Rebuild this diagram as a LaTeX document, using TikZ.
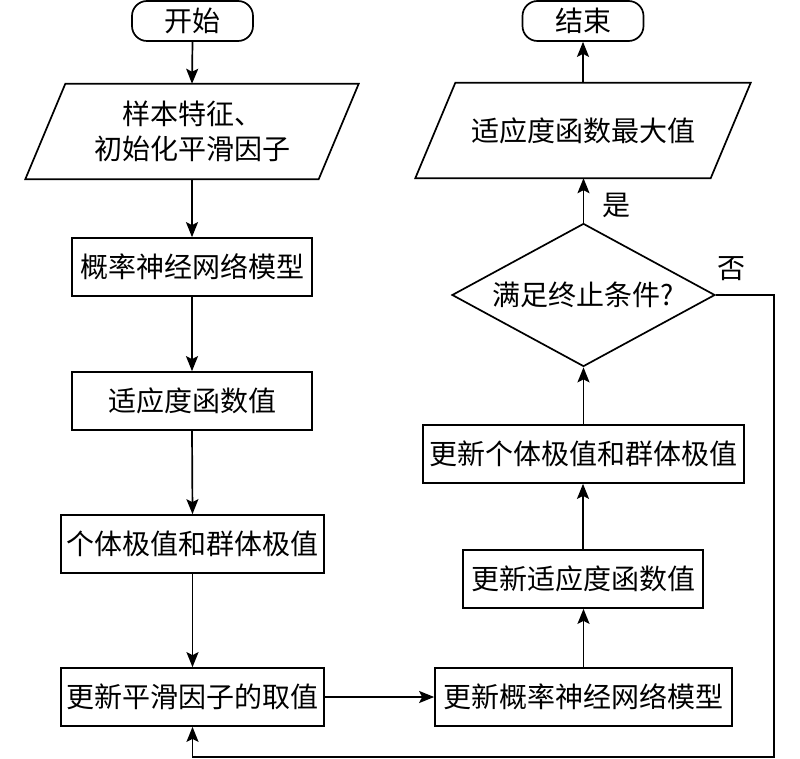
\documentclass[tikz,border=0pt]{standalone}
\usepackage{fontspec}
\setmainfont{Noto Sans CJK SC}
\usetikzlibrary{arrows.meta,shapes.geometric,calc}
\begin{document}
\begin{tikzpicture}[x=1pt,y=-1pt,
  every node/.style={font=\fontsize{28}{35}\selectfont, inner sep=0pt},
  box/.style={draw, line width=1.7pt, rectangle, minimum height=58pt},
  term/.style={draw, line width=1.7pt, rounded corners=15pt, minimum width=121pt, minimum height=40pt},
  io/.style={minimum width=293pt, minimum height=95pt, align=center},
  iobord/.style={line width=1.7pt, line join=miter},
  dec/.style={draw, line width=1.7pt, diamond, aspect=1.84, minimum width=263pt, minimum height=143pt},
  conn/.style={line width=1.7pt, -{Stealth[length=15pt,width=12pt,inset=3pt]}},
  lbl/.style={}
]
\useasboundingbox (0,0) rectangle (800,759);

% left column
\node[term] (start) at (192.5,21) {开始};
\node[io] (p1) at (192,131.5) {样本特征、\\初始化平滑因子};
\draw[iobord] ($(p1.north west)+(20,0)$) -- ($(p1.north east)+(20,0)$) -- ($(p1.south east)+(-20,0)$) -- ($(p1.south west)+(-20,0)$) -- cycle;
\node[box, minimum width=240pt] (b1) at (192,267) {概率神经网络模型};
\node[box, minimum width=240pt] (b2) at (192,401) {适应度函数值};
\node[box, minimum width=263pt] (b3) at (192.5,544) {个体极值和群体极值};
\node[box, minimum width=263pt] (b4) at (192.5,697) {更新平滑因子的取值};

% right column
\node[box, minimum width=297pt] (b5) at (583.5,697) {更新概率神经网络模型};
\node[box, minimum width=240pt] (b6) at (583,579) {更新适应度函数值};
\node[box, minimum width=321pt] (b7) at (583.5,454) {更新个体极值和群体极值};
\node[dec] (dec) at (583.5,295) {满足终止条件?};
\node[io, minimum width=295pt] (p2) at (583,130.5) {适应度函数最大值};
\draw[iobord] ($(p2.north west)+(20,0)$) -- ($(p2.north east)+(20,0)$) -- ($(p2.south east)+(-20,0)$) -- ($(p2.south west)+(-20,0)$) -- cycle;
\node[term] (end) at (583,21) {结束};

% labels
\node[lbl] (yes) at (616,205) {是};
\node[lbl] (no) at (731,269) {否};

% connectors
\draw[conn] (start.south) -- (p1.north);
\draw[conn] (p1.south) -- (b1.north);
\draw[conn] (b1.south) -- (b2.north);
\draw[conn] (b2.south) -- (b3.north);
\draw[conn] (b3.south) -- (b4.north);
\draw[conn] (b4.east) -- (b5.west);
\draw[conn] (b5.north) -- (b5.north |- b6.south);
\draw[conn] (b6.north) -- (b6.north |- b7.south);
\draw[conn] (b7.north) -- (dec.south);
\draw[conn] (dec.north) -- (dec.north |- p2.south);
\draw[conn] (p2.north) -- (p2.north |- end.south);
\coordinate (c1) at (774,295);
\coordinate (c2) at (774,757);
\draw[conn] (dec.east) -- (c1) -- (c2) -- (c2 -| b4.south) -- (b4.south);
\end{tikzpicture}
\end{document}
